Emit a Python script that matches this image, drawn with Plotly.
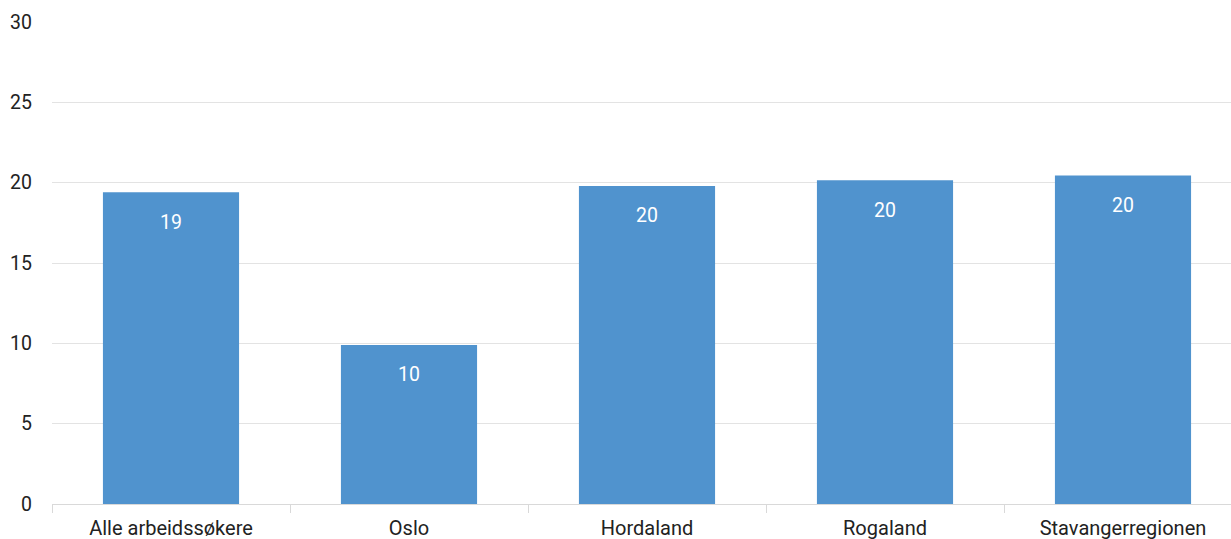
import plotly.graph_objects as go

categories = ["Alle arbeidssøkere", "Oslo", "Hordaland", "Rogaland", "Stavangerregionen"]
values = [19.4, 9.9, 19.8, 20.15, 20.45]
y_ticks = [0, 5, 10, 15, 20, 25, 30]

FONT = "Roboto"

fig = go.Figure()
fig.add_trace(go.Bar(
    x=categories, y=values,
    marker=dict(color="#5093CE", line=dict(width=0)),
    width=0.572,
    hoverinfo="skip",
))
for c, v in zip(categories, values):
    fig.add_annotation(x=c, y=v, text=f"{v:.0f}", showarrow=False,
                       yshift=-30, font=dict(color="white", size=19.5, family=FONT))

fig.update_layout(
    width=1242, height=539,
    margin=dict(l=52, r=0, t=22, b=35),
    paper_bgcolor="white", plot_bgcolor="white",
    showlegend=False,
    font=dict(family=FONT, size=19, color="#222"),
)
fig.update_xaxes(
    tickson="boundaries", ticks="outside", ticklen=8, tickcolor="#d9d9d9",
    showline=True, linecolor="#d9d9d9", linewidth=1,
    tickfont=dict(size=20, color="#222", family=FONT),
    automargin=False, ticklabelstandoff=6,
)
fig.update_yaxes(
    range=[0, 30], tickvals=y_ticks, showgrid=True, gridcolor="#e3e3e3",
    zeroline=False, showline=False, ticks="", ticklabelstandoff=19,
    tickfont=dict(size=19.5, color="#222", family=FONT), automargin=False,
)
fig.write_html(
    "out.html",
    config={"displayModeBar": False},
    post_script="document.body.style.margin='0';document.body.style.overflow='hidden';",
)
